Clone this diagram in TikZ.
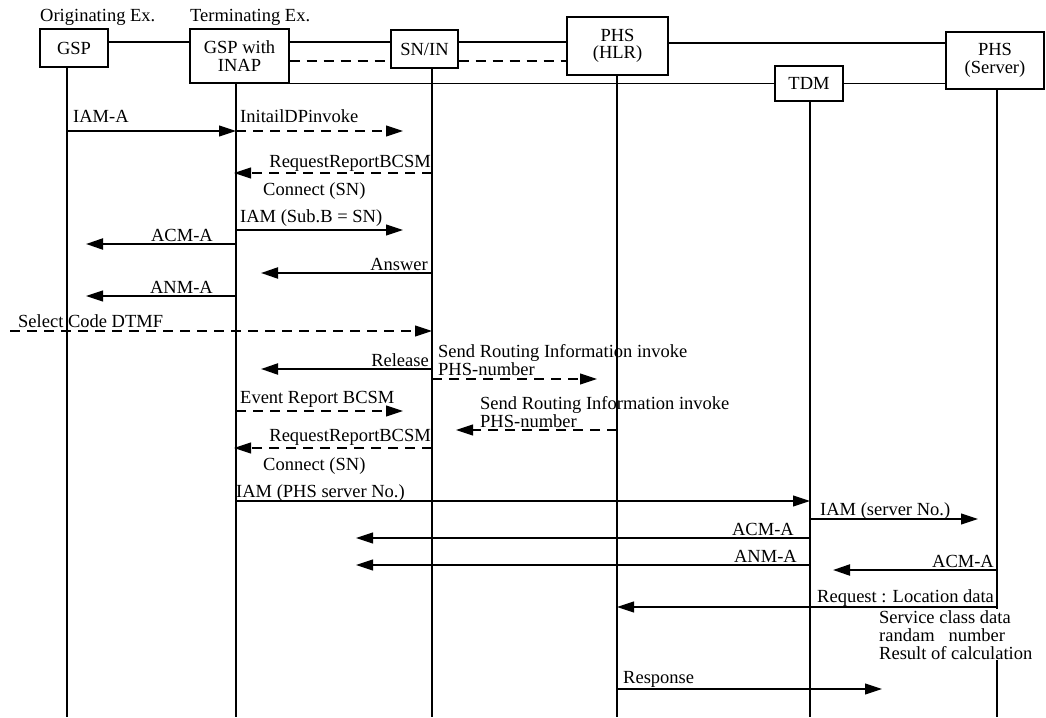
\documentclass[tikz,border=0pt]{standalone}
\usepackage{fontspec}
\setmainfont{Liberation Serif}
\usetikzlibrary{arrows.meta}
\begin{document}
\begin{tikzpicture}[x=1pt,y=-1pt,
  every node/.style={font=\fontsize{18.5}{17.5}\selectfont, inner sep=0pt},
  box/.style={draw, line width=1.4pt, align=center, inner sep=0pt},
  life/.style={line width=1.3pt},
  link/.style={line width=1.2pt},
  dlink/.style={line width=1.2pt, dash pattern=on 10pt off 7pt},
  msg/.style={line width=1.1pt, -{Triangle[length=17pt,width=11pt]}},
  bmsg/.style={msg, line width=2.2pt},
  dmsg/.style={msg, dash pattern=on 10pt off 7pt},
  lbl/.style={anchor=base west},
  rlbl/.style={anchor=base east},
]
\useasboundingbox (0,0) rectangle (1046,717);

% headers
\node[lbl] (h1) at (40,22) {Originating Ex.};
\node[lbl] (h2) at (190,22) {Terminating Ex.};

% boxes
\node[box, minimum width=68pt, minimum height=38pt] (gsp) at (74,48) {GSP};
\node[box, minimum width=99pt, minimum height=54pt] (inap) at (239.5,56) {GSP with\\INAP};
\node[box, minimum width=67pt, minimum height=38pt] (sn) at (424.5,49) {SN/IN};
\node[box, minimum width=101pt, minimum height=58pt] (hlr) at (617.5,46) {PHS\\(HLR)};
\node[box, minimum width=68pt, minimum height=35pt] (tdm) at (809,83.5) {TDM};
\node[box, minimum width=98pt, minimum height=57pt] (srv) at (995,60.5) {PHS\\(Server)};

% links between boxes
\draw[link] (gsp.east |- 0,42) -- (inap.west |- 0,42);
\draw[link] (inap.east |- 0,42) -- (sn.west |- 0,42);
\draw[link] (sn.east |- 0,42) -- (hlr.west |- 0,42);
\draw[link] (hlr.east |- 0,43) -- (srv.west |- 0,43);
\draw[dlink] (inap.east |- 0,61) -- (sn.west |- 0,61);
\draw[dlink] (sn.east |- 0,61) -- (hlr.west |- 0,61);
\draw[link] (inap.south east) -- (tdm.west |- inap.south east);
\draw[link] (tdm.east |- inap.south east) -- (srv.west |- inap.south east);

% lifelines
\coordinate (xA) at (67,0);
\coordinate (xB) at (236,0);
\coordinate (xC) at (432,0);
\coordinate (xD) at (617,0);
\coordinate (xE) at (810,0);
\coordinate (xF) at (997,0);
\draw[life] (xA |- gsp.south) -- (xA |- 0,717);
\draw[life] (xB |- inap.south) -- (xB |- 0,717);
\draw[life] (xC |- sn.south) -- (xC |- 0,717);
\draw[life] (xD |- hlr.south) -- (xD |- 0,717);
\draw[life] (xE |- tdm.south) -- (xE |- 0,717);
\draw[life] (xF |- srv.south) -- (xF |- 0,717);

% messages
\draw[msg] (xA |- 0,131) -- (xB |- 0,131);
\node[lbl] (m1) at (73,122) {IAM-A};
\draw[dmsg] (xB |- 0,131) -- (403,131);
\node[lbl] (m2) at (240,122) {InitailDPinvoke};

\draw[dmsg] (xC |- 0,173) -- (234,173);
\node[rlbl] (m3) at (431,167) {RequestReportBCSM};
\node[lbl] (m3b) at (263,195) {Connect (SN)};

\draw[msg] (xB |- 0,230) -- (403,230);
\node[lbl] (m4) at (240,222) {IAM (Sub.B = SN)};

\draw[bmsg] (xB |- 0,244) -- (86,244);
\node[rlbl] (m5) at (213,241) {ACM-A};

\draw[bmsg] (xC |- 0,273) -- (261,273);
\node[rlbl] (m6) at (428,270) {Answer};

\draw[msg] (xB |- 0,296) -- (86,296);
\node[rlbl] (m7) at (213,293) {ANM-A};

\draw[dmsg] (10,331) -- (xC |- 0,331);
\node[lbl] (m8) at (18,327) {Select Code DTMF};

\draw[bmsg] (xC |- 0,369) -- (261,369);
\node[rlbl] (m9) at (429,366) {Release};

\draw[dmsg] (xC |- 0,379) -- (597,379);
\node[lbl] (m10) at (438,357) {Send Routing Information invoke};
\node[lbl] (m10b) at (438,375) {PHS-number};

\draw[dmsg] (xB |- 0,411) -- (403,411);
\node[lbl] (m11) at (240,403) {Event Report BCSM};

\draw[dmsg] (xD |- 0,430) -- (456,430);
\node[lbl] (m12) at (480,409) {Send Routing Information invoke};
\node[lbl] (m12b) at (480,427) {PHS-number};

\draw[dmsg] (xC |- 0,448) -- (234,448);
\node[rlbl] (m13) at (431,441) {RequestReportBCSM};
\node[lbl] (m13b) at (263,470) {Connect (SN)};

\draw[msg] (xB |- 0,501) -- (xE |- 0,501);
\node[lbl] (m14) at (236,497) {IAM (PHS server No.)};

\draw[msg] (xE |- 0,519) -- (978,519);
\node[lbl] (m15) at (820,515) {IAM (server No.)};

\draw[msg] (xE |- 0,538) -- (356,538);
\node[rlbl] (m16) at (794,535) {ACM-A};

\draw[msg] (xE |- 0,565) -- (356,565);
\node[rlbl] (m17) at (797,562) {ANM-A};

\draw[bmsg] (xF |- 0,570) -- (833,570);
\node[rlbl] (m18) at (994,567) {ACM-A};

\draw[msg] (xF |- 0,607) -- (xD |- 0,607);
\node[lbl] (m19) at (817,602) {Request : Location data};
\node[anchor=north west, fill=white, align=left, inner sep=1pt, font=\fontsize{18.5}{18}\selectfont] (m19b) at (878,609) {Service class data\\randam~~~number\\Result of calculation};

\draw[msg] (xD |- 0,689) -- (882,689);
\node[lbl] (m20) at (623,683) {Response};
\end{tikzpicture}
\end{document}
